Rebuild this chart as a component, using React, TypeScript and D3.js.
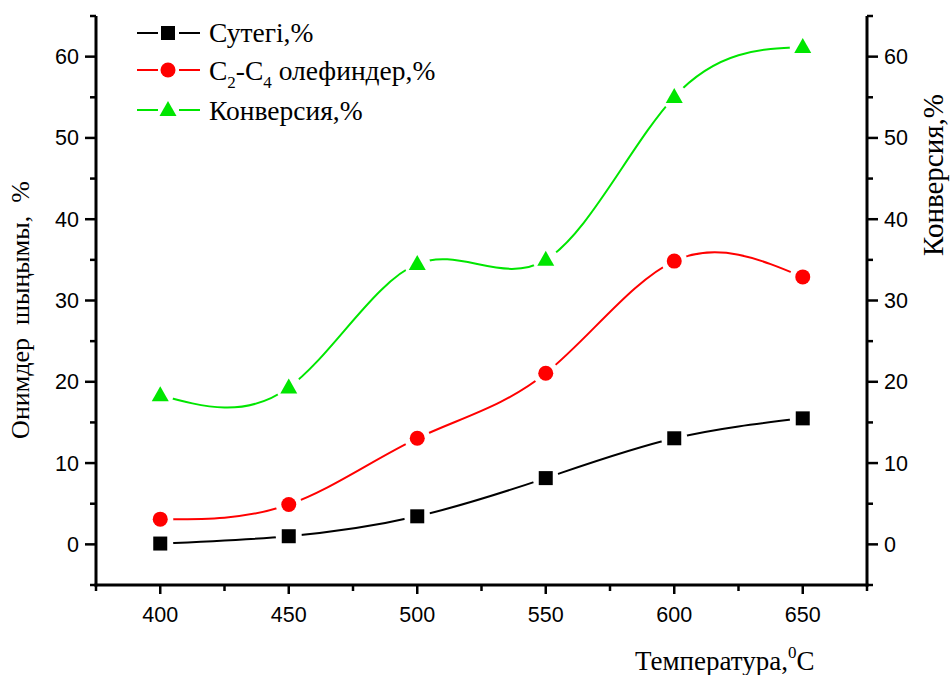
import React from "react";
import * as d3 from "d3";

const temperatures = [400, 450, 500, 550, 600, 650];
const hydrogen = [0.1, 1.0, 3.45, 8.15, 13.05, 15.5];
const olefins = [3.1, 4.9, 13.05, 21.05, 34.85, 32.9];
const conversion = [18.35, 19.3, 34.5, 35.0, 55.05, 61.2];
const xTicksMajor = [400, 450, 500, 550, 600, 650];
const yTicksMajor = [0, 10, 20, 30, 40, 50, 60];

const W = 951, H = 675;
const L = 96, R = 867, T = 16, B = 585;

const x = d3.scaleLinear().domain([375, 675]).range([L, R]);
const y = d3.scaleLinear().domain([-5, 65]).range([B, T]);

type Shape = "square" | "circle" | "triangle";
const series: { name: string; values: number[]; color: string; shape: Shape }[] = [
  { name: "h", values: hydrogen, color: "#000000", shape: "square" },
  { name: "o", values: olefins, color: "#ff0000", shape: "circle" },
  { name: "c", values: conversion, color: "#00e600", shape: "triangle" },
];

function Marker({ shape, cx, cy, color }: { shape: Shape; cx: number; cy: number; color: string }) {
  if (shape === "square") return <rect x={cx - 7} y={cy - 7} width={14} height={14} fill={color} />;
  if (shape === "circle") return <circle cx={cx} cy={cy} r={7.5} fill={color} />;
  return <path d={`M${cx},${cy - 9}L${cx + 8.5},${cy + 6}L${cx - 8.5},${cy + 6}Z`} fill={color} />;
}

export default function App() {
  const line = d3
    .line<[number, number]>()
    .x((d) => x(d[0]))
    .y((d) => y(d[1]))
    .curve(d3.curveNatural);

  const xMinor = d3.range(375, 676, 25).filter((v) => !xTicksMajor.includes(v));
  const yMinor = d3.range(-5, 66, 5).filter((v) => !yTicksMajor.includes(v));

  const axisW = 3;
  const tickW = 2.5;

  const legendRows = [
    { s: series[0], cy: 33, base: 42 },
    { s: series[1], cy: 70, base: 80 },
    { s: series[2], cy: 110, base: 120 },
  ];

  return (
    <svg width={W} height={H} style={{ position: "absolute", left: 0, top: 0, background: "#fff" }}>
      <defs>
        {series.map((s) => (
          <mask id={`m-${s.name}`} key={s.name} maskUnits="userSpaceOnUse" x={0} y={0} width={W} height={H}>
            <rect x={0} y={0} width={W} height={H} fill="white" />
            {temperatures.map((t, i) => (
              <circle key={i} cx={x(t)} cy={y(s.values[i])} r={13} fill="black" />
            ))}
          </mask>
        ))}
      </defs>

      {/* series lines */}
      {series.map((s) => (
        <path
          key={s.name}
          d={line(temperatures.map((t, i) => [t, s.values[i]] as [number, number])) || ""}
          fill="none"
          stroke={s.color}
          strokeWidth={2}
          mask={`url(#m-${s.name})`}
        />
      ))}
      {series.map((s) =>
        temperatures.map((t, i) => (
          <Marker key={s.name + i} shape={s.shape} cx={x(t)} cy={y(s.values[i])} color={s.color} />
        ))
      )}

      {/* axes */}
      <g stroke="#000" fill="none">
        <line x1={L} x2={L} y1={T} y2={B + 1.5} strokeWidth={axisW} />
        <line x1={R} x2={R} y1={T} y2={B + 1.5} strokeWidth={axisW} />
        <line x1={L - 1.5} x2={R + 1.5} y1={B} y2={B} strokeWidth={axisW} />
        {xTicksMajor.map((v) => (
          <line key={"xM" + v} x1={x(v)} x2={x(v)} y1={B} y2={B + 9} strokeWidth={tickW} />
        ))}
        {xMinor.map((v) => (
          <line key={"xm" + v} x1={x(v)} x2={x(v)} y1={B} y2={B + 6} strokeWidth={tickW} />
        ))}
        {yTicksMajor.map((v) => (
          <g key={"yM" + v}>
            <line x1={L - 11} x2={L} y1={y(v)} y2={y(v)} strokeWidth={tickW} />
            <line x1={R} x2={R + 11} y1={y(v)} y2={y(v)} strokeWidth={tickW} />
          </g>
        ))}
        {yMinor.map((v) => (
          <g key={"ym" + v}>
            <line x1={L - 6} x2={L} y1={y(v)} y2={y(v)} strokeWidth={tickW} />
            <line x1={R} x2={R + 6} y1={y(v)} y2={y(v)} strokeWidth={tickW} />
          </g>
        ))}
      </g>

      {/* tick labels */}
      <g fontFamily="'Liberation Sans', Arial, sans-serif" fontSize={21.5} fill="#000">
        {xTicksMajor.map((v) => (
          <text key={"xl" + v} x={x(v)} y={622} textAnchor="middle">
            {v}
          </text>
        ))}
        {yTicksMajor.map((v) => (
          <text key={"yl" + v} x={79} y={y(v) + 7.5} textAnchor="end">
            {v}
          </text>
        ))}
        {yTicksMajor.map((v) => (
          <text key={"yr" + v} x={884} y={y(v) + 7.5} textAnchor="start">
            {v}
          </text>
        ))}
      </g>

      {/* axis titles */}
      <g fontFamily="'Liberation Serif', 'Times New Roman', serif" fill="#000">
        <text x={635} y={670} fontSize={27}>
          Температура,<tspan dy={-12} fontSize={17}>0</tspan>
          <tspan dy={12}>C</tspan>
        </text>
        <text
          transform={`translate(29, 310) rotate(-90)`}
          textAnchor="middle"
          fontSize={26}
          style={{ whiteSpace: "pre" }}
        >
          {"Онимдер  шыңымы,  %"}
        </text>
        <text transform={`translate(943, 175) rotate(-90)`} textAnchor="middle" fontSize={29}>
          Конверсия,%
        </text>
      </g>

      {/* legend */}
      {legendRows.map(({ s, cy }) => (
        <g key={"lg" + s.name}>
          <line x1={137} x2={158} y1={cy} y2={cy} stroke={s.color} strokeWidth={2} />
          <line x1={179} x2={200} y1={cy} y2={cy} stroke={s.color} strokeWidth={2} />
          <Marker shape={s.shape} cx={168} cy={cy} color={s.color} />
        </g>
      ))}
      <g fontFamily="'Liberation Serif', 'Times New Roman', serif" fontSize={27.5} fill="#000">
        <text x={209} y={legendRows[0].base}>Сутегі,%</text>
        <text x={209} y={legendRows[1].base}>
          C<tspan fontSize={17} dy={8}>2</tspan>
          <tspan dy={-8}>-C</tspan>
          <tspan fontSize={17} dy={8}>4</tspan>
          <tspan dy={-8}> олефиндер,%</tspan>
        </text>
        <text x={209} y={legendRows[2].base}>Конверсия,%</text>
      </g>
    </svg>
  );
}
